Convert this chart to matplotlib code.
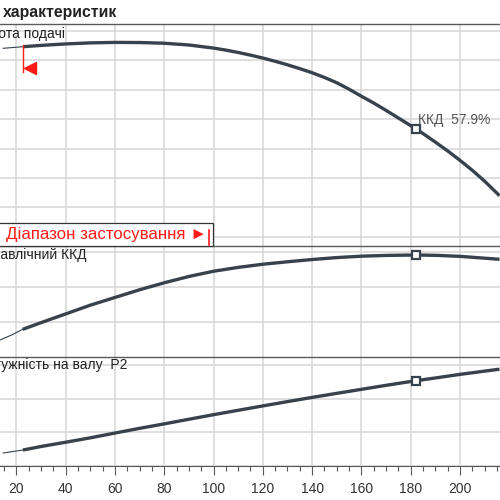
import matplotlib
matplotlib.use("Agg")
import matplotlib.pyplot as plt
from matplotlib.patches import Rectangle
from matplotlib.ticker import MultipleLocator

plt.rcParams['font.family'] = ['Liberation Sans', 'DejaVu Sans']

# подача, м3/год
q_thin = [14.7, 22.7]
q = [22.7, 30, 40, 50, 60, 70, 80, 90, 100, 105, 110, 115, 120, 125, 130,
     135, 140, 145, 150, 155, 160, 165, 170, 175, 180, 182.2, 185, 190, 195,
     200, 205, 210, 216]

# висота подачі
h_thin = [37.06, 37.33]
h = [37.33, 37.55, 37.8, 37.98, 38.06, 38.04, 37.92, 37.62, 37.1, 36.75,
     36.35, 35.9, 35.4, 34.85, 34.25, 33.6, 32.9, 32.1, 31.2, 30.1, 28.9,
     27.75, 26.5, 25.2, 23.9, 23.33, 22.55, 21.1, 19.6, 18.0, 16.3, 14.45,
     12.0]

# гідравлічний ККД
q_eff_thin = [13.4, 18.1, 22.6]
eff_thin = [34.86, 36.29, 37.91]
q_eff = [22.6, 30, 40, 50, 60, 70, 80, 90, 100, 110, 120, 130, 140, 150,
         160, 170, 182.2, 190, 200, 216]
eff = [37.91, 39.8, 42.3, 44.8, 47.0, 49.2, 51.2, 53.0, 54.5, 55.6, 56.5,
       57.2, 57.85, 58.4, 58.8, 59.02, 59.14, 59.05, 58.75, 57.91]

# потужність на валу P2
p2_thin = [3.86, 4.75]
q_p2 = [22.7, 30, 40, 50, 60, 70, 80, 90, 100, 110, 120, 130, 140, 150, 160,
        170, 182.2, 190, 200, 216]
p2 = [4.75, 5.79, 7.06, 8.37, 9.79, 11.19, 12.52, 13.89, 15.25, 16.56, 17.86,
      19.14, 20.39, 21.6, 22.79, 23.98, 25.37, 26.17, 27.24, 28.78]

q_bep = 182.2
h_bep = 23.33
eff_bep = 59.14
p2_bep = 25.37
eff_label = "ККД  57.9%"
q_range_start = 22.7

CURVE = "#37424d"
GRID = "#d6d6d6"
FRAME = "#5a5a5a"
RED = "#ff1a1a"
XLIM = (13.4, 216.2)

fig = plt.figure(figsize=(5, 5), dpi=100)
fig.patch.set_facecolor("white")

ax_h = fig.add_axes([0, 0.508, 1, 0.444])
ax_e = fig.add_axes([0, 0.286, 1, 0.222])
ax_p = fig.add_axes([0, 0.068, 1, 0.218])


def _style(ax, yticks, ylim):
    ax.set_xlim(*XLIM)
    ax.set_ylim(*ylim)
    ax.set_yticks(yticks)
    ax.xaxis.set_major_locator(MultipleLocator(20))
    ax.grid(True, color=GRID, linewidth=1.1, zorder=0)
    ax.set_axisbelow(True)
    for s in ("left", "right", "bottom"):
        ax.spines[s].set_visible(False)
    ax.spines["top"].set_color(FRAME)
    ax.spines["top"].set_linewidth(1.0)
    ax.tick_params(axis="y", left=False, labelleft=False)
    ax.tick_params(axis="x", bottom=False, labelbottom=False)


_style(ax_h, [5, 10, 15, 20, 25, 30, 35, 40], (3.44, 41.19))
_style(ax_e, [40, 50, 60], (30, 61.71))
_style(ax_p, [0, 10, 20, 30], (0, 32.4))

ax_p.spines["bottom"].set_visible(True)
ax_p.spines["bottom"].set_color(FRAME)
ax_p.xaxis.set_minor_locator(MultipleLocator(5))
ax_p.tick_params(axis="x", which="major", bottom=True, labelbottom=True,
                 length=6.5, width=0.8, color=FRAME, labelsize=10,
                 labelcolor="#333333", pad=5)
ax_p.tick_params(axis="x", which="minor", bottom=True, length=3.5,
                 width=0.8, color=FRAME)

# криві
ax_h.plot(q_thin, h_thin, color=CURVE, lw=0.8, zorder=3)
ax_h.plot(q, h, color=CURVE, lw=2.4, solid_capstyle="butt",
          solid_joinstyle="round", zorder=3)
ax_e.plot(q_eff_thin, eff_thin, color=CURVE, lw=0.8, zorder=3)
ax_e.plot(q_eff, eff, color=CURVE, lw=2.4, solid_capstyle="butt",
          solid_joinstyle="round", zorder=3)
ax_p.plot(q_thin, p2_thin, color=CURVE, lw=0.8, zorder=3)
ax_p.plot(q_p2, p2, color=CURVE, lw=2.4, solid_capstyle="butt",
          solid_joinstyle="round", zorder=3)

for ax, yv in ((ax_h, h_bep), (ax_e, eff_bep), (ax_p, p2_bep)):
    ax.plot([q_bep], [yv], marker="s", ms=5.5, mfc="white", mec=CURVE,
            mew=1.6, zorder=4)

ax_h.annotate(eff_label, (q_bep, h_bep), xytext=(1.5, 1.5),
              textcoords="offset points", ha="left", va="bottom",
              fontsize=10, color="#555555", zorder=5)

# початок діапазону застосування
ax_h.plot([q_range_start, q_range_start], [37.6, 33.0], color=RED, lw=1.0,
          zorder=4)
ax_h.plot([25.4], [33.7], marker="<", ms=8, color=RED, zorder=4)

# підписи панелей
fig.text(65 / 500, 1 - 34 / 500, "Висота подачі", ha="right", va="center",
         fontsize=10, color="#222222")
fig.text(87 / 500, 1 - 255 / 500, "Гідравлічний ККД", ha="right",
         va="center", fontsize=10, color="#222222")
fig.text(127.7 / 500, 1 - 365.5 / 500, "Потужність на валу  P2", ha="right",
         va="center", fontsize=10, color="#222222")

# легенда діапазону
fig.patches.append(Rectangle((-0.01, 1 - 246 / 500), 0.01 + 213 / 500,
                             23 / 500, transform=fig.transFigure,
                             facecolor="white", edgecolor="#333333", lw=0.9,
                             zorder=5))
fig.text(6 / 500, 1 - 234 / 500, "Діапазон застосування ►", ha="left",
         va="center", fontsize=12.2, color=RED, zorder=6)
fig.add_artist(plt.Line2D([208.5 / 500, 208.5 / 500],
                          [1 - 230 / 500, 1 - 245 / 500],
                          transform=fig.transFigure, color=RED, lw=1.2,
                          zorder=6))

fig.text(3 / 500, 1 - 12 / 500, "характеристик", ha="left", va="center",
         fontsize=11.3, fontweight="bold", color="#222222")

fig.savefig("out.png", dpi=100, facecolor="white")
